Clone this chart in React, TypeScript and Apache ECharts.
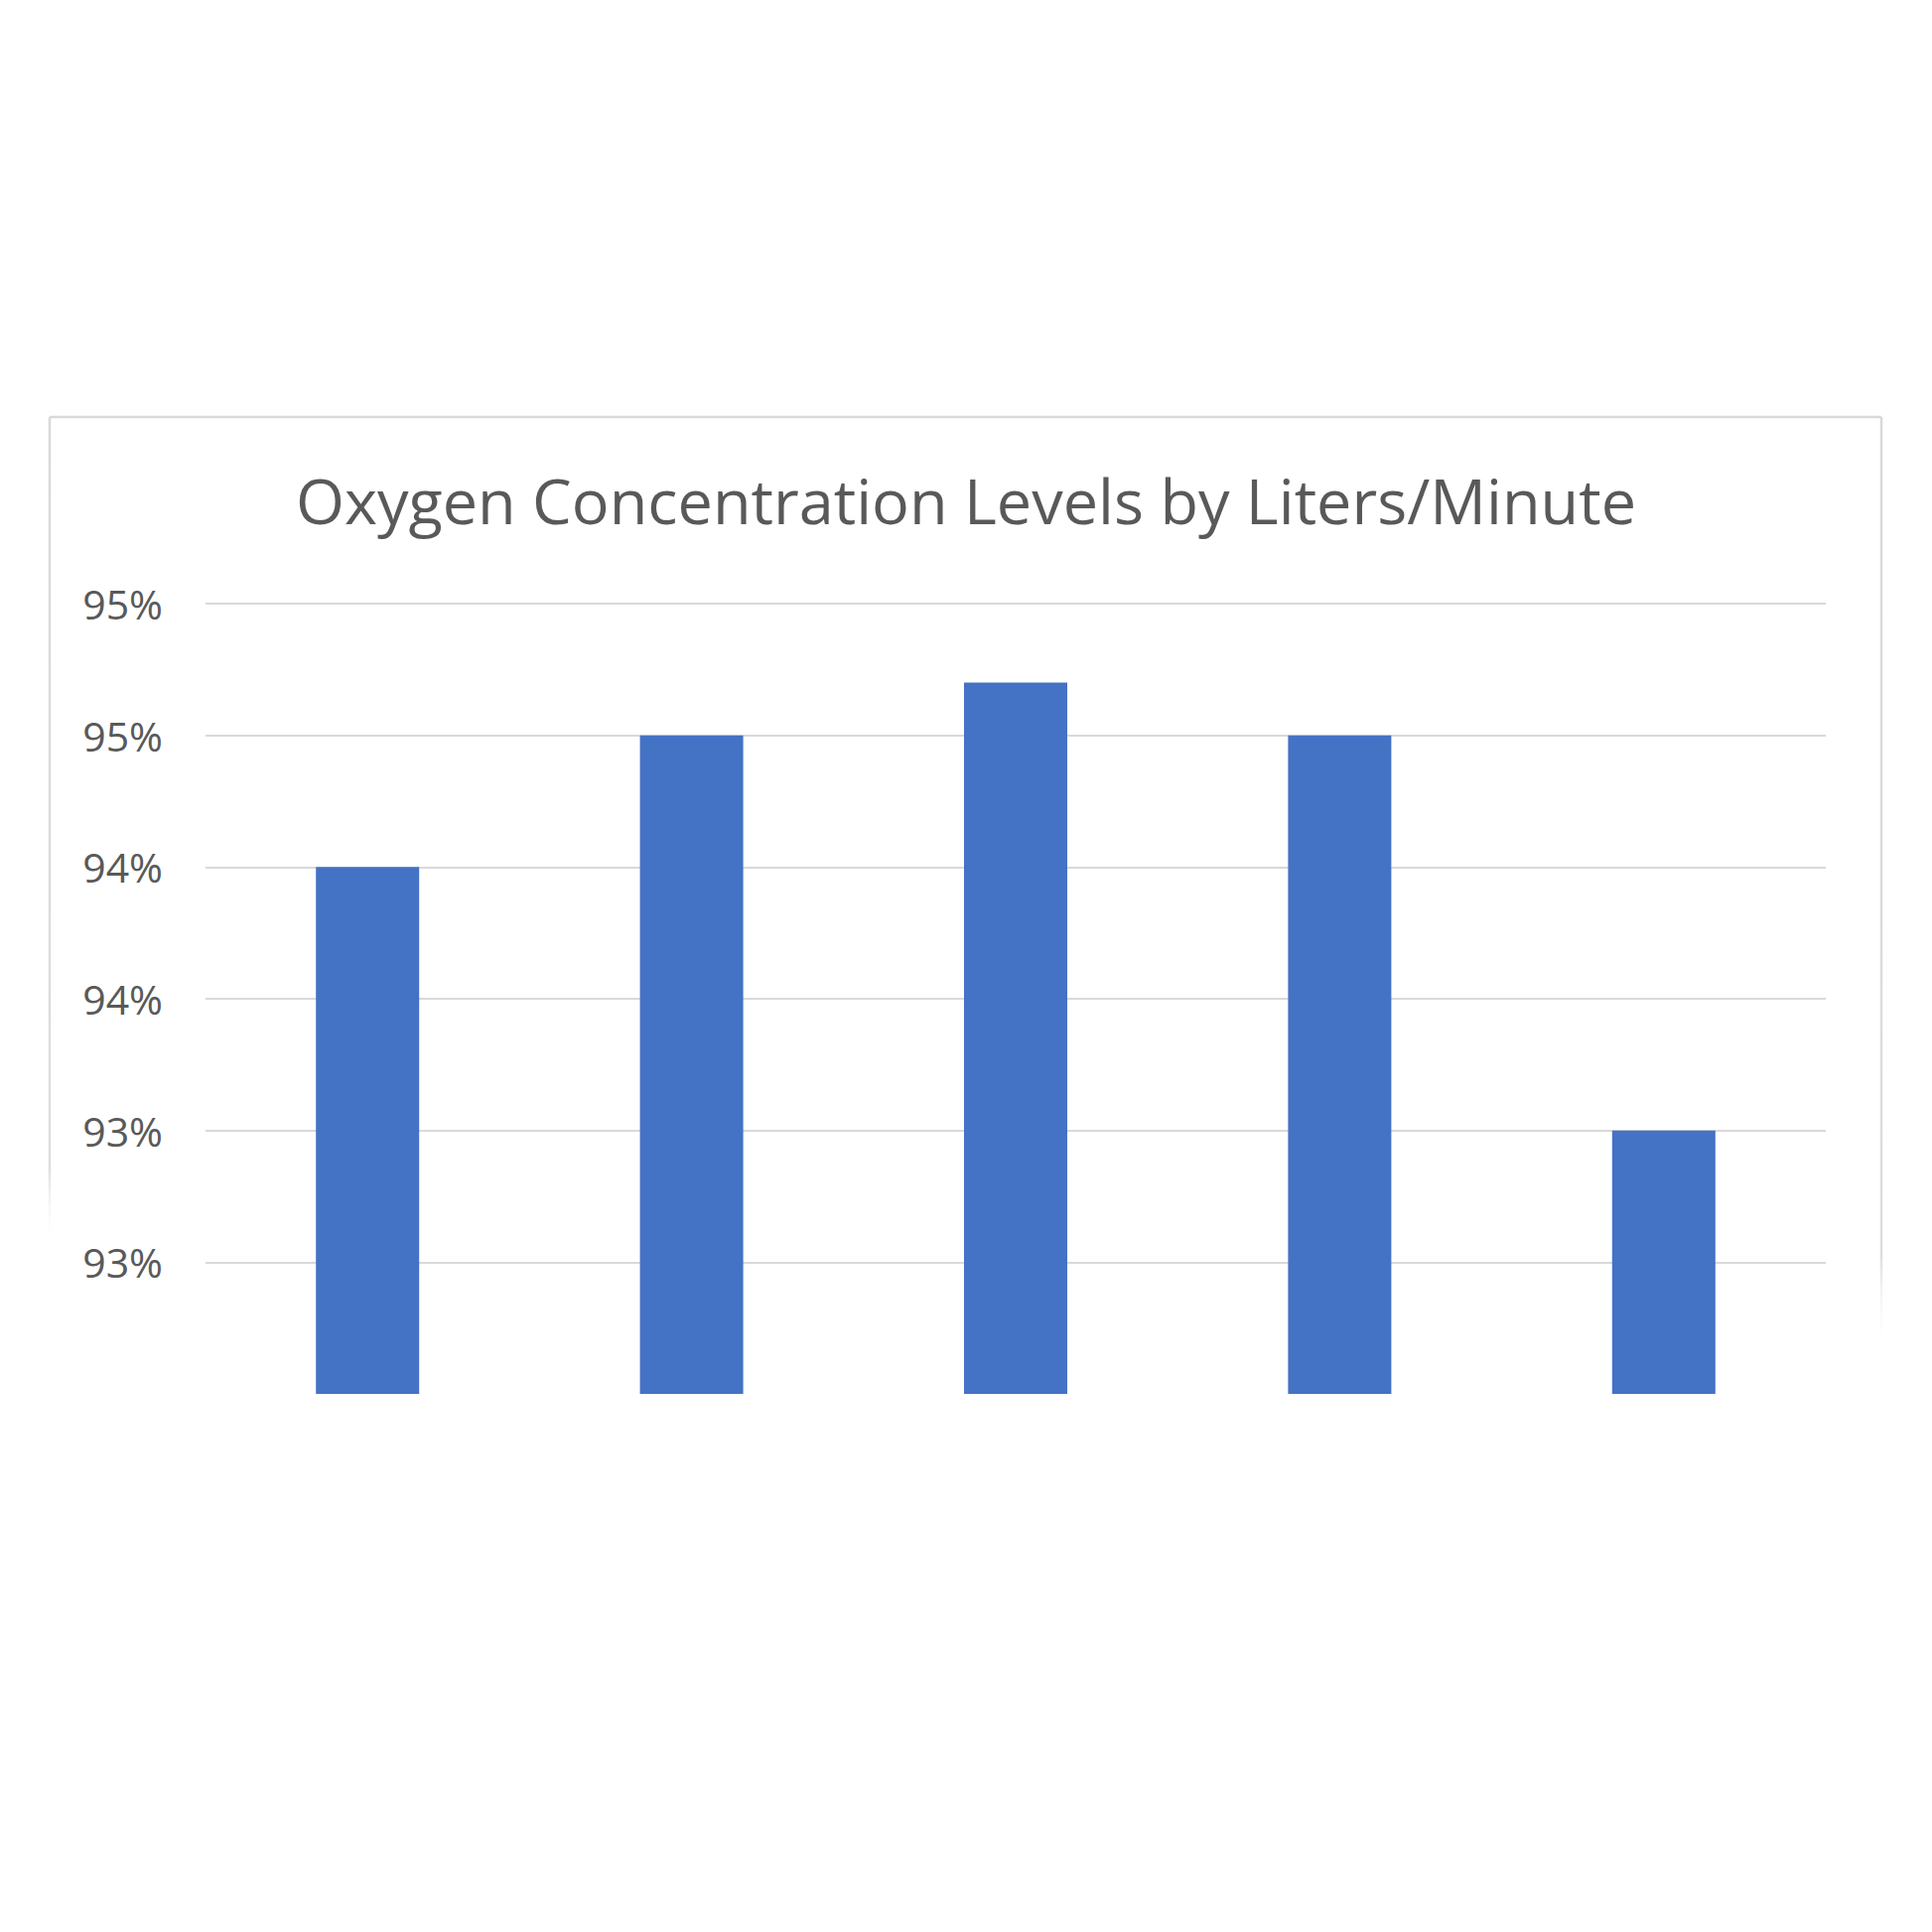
import React, { useEffect, useRef } from "react";
import * as echarts from "echarts";

const categories = ["1", "2", "3", "4", "5"];
const values = [94.0, 94.5, 94.7, 94.5, 93.0];
const titleText = "Oxygen Concentration Levels by Liters/Minute";
const yMin = 92;
const yMax = 95;
const yStep = 0.5;

export default function App() {
  const ref = useRef<HTMLDivElement>(null);
  useEffect(() => {
    if (!ref.current) return;
    const chart = echarts.init(ref.current, null, { renderer: "svg" });
    const fadeV = () => ({
      type: "linear",
      x: 0,
      y: 0,
      x2: 0,
      y2: 1,
      colorStops: [
        { offset: 0, color: "#d9d9d9" },
        { offset: 0.9, color: "#dedede" },
        { offset: 1, color: "rgba(255,255,255,0)" },
      ],
    });
    chart.setOption({
      animation: false,
      backgroundColor: "#ffffff",
      grid: { left: 207, right: 107, top: 608, bottom: 542, containLabel: false },
      graphic: [
        {
          type: "line",
          shape: { x1: 50, y1: 420, x2: 1895, y2: 420 },
          style: { stroke: "#d9d9d9", lineWidth: 2.5 },
        },
        {
          type: "rect",
          shape: { x: 48.75, y: 420, width: 2.5, height: 840 },
          style: { fill: fadeV() },
        },
        {
          type: "rect",
          shape: { x: 1893.75, y: 420, width: 2.5, height: 940 },
          style: { fill: fadeV() },
        },
        {
          type: "text",
          x: 973,
          y: 503,
          style: {
            text: titleText,
            fontFamily: "Open Sans",
            fontSize: 63,
            fill: "#595959",
            textAlign: "center",
            textVerticalAlign: "middle",
          },
        },
      ],
      xAxis: {
        type: "category",
        data: categories,
        axisLine: { show: false },
        axisTick: { show: false },
        axisLabel: { show: false },
      },
      yAxis: {
        type: "value",
        min: yMin,
        max: yMax,
        interval: yStep,
        axisLine: { show: false },
        axisTick: { show: false },
        axisLabel: {
          showMinLabel: false,
          formatter: (v: number) => Math.round(v) + "%",
          fontFamily: "Open Sans",
          fontSize: 41,
          color: "#595959",
          margin: 43,
        },
        splitLine: {
          showMinLine: false,
          lineStyle: { color: "#d9d9d9", width: 2 },
        },
      },
      series: [
        {
          type: "bar",
          data: values,
          barWidth: 104,
          itemStyle: { color: "#4472C4" },
        },
      ],
    });
    return () => chart.dispose();
  }, []);
  return (
    <div
      ref={ref}
      style={{ position: "absolute", left: 0, top: 0, width: 1946, height: 1946 }}
    />
  );
}
